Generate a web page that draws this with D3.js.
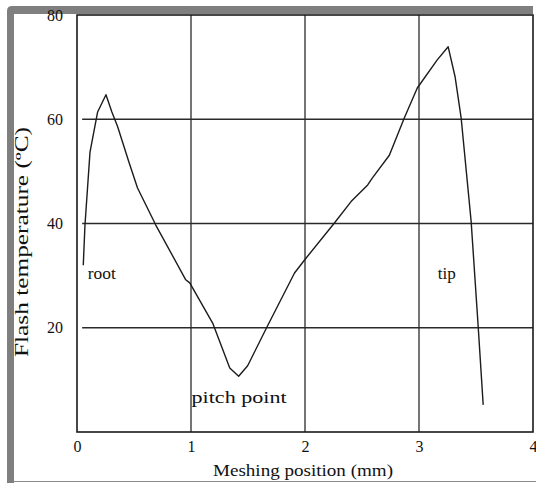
<!DOCTYPE html>
<html>
<head>
<meta charset="utf-8">
<script src="https://cdn.jsdelivr.net/npm/d3@7"></script>
<style>
  html, body { margin: 0; padding: 0; background: #fff; }
  svg { display: block; }
  text { font-family: "Liberation Serif", "Times New Roman", serif; fill: #111; }
</style>
</head>
<body>
<svg id="chart" width="536" height="483"></svg>
<script>
// Flash temperature along the line of action, root to tip
const meshPos = [0.055, 0.07, 0.114, 0.181, 0.254, 0.306, 0.356, 0.458, 0.531, 0.691, 0.954, 0.989,
                 1.19, 1.34, 1.418, 1.497, 1.663, 1.908, 1.996, 2.258, 2.404, 2.55, 2.59, 2.74,
                 2.87, 2.985, 3.16, 3.256, 3.317, 3.37, 3.457, 3.519, 3.563];
const flashTemp = [32.0, 39.7, 53.7, 61.4, 64.7, 61.4, 58.6, 51.6, 46.8, 39.7, 29.2, 28.6,
                   20.9, 12.3, 10.7, 12.7, 20.0, 30.5, 33.0, 40.1, 44.2, 47.4, 48.7, 53.1,
                   60.2, 66.0, 71.4, 73.9, 68.1, 60.2, 40.5, 20.3, 5.2];

const xTicks = [0, 1, 2, 3, 4];
const yTicks = [20, 40, 60, 80];
const xGrid = [1, 2, 3];
const yGrid = [20, 40, 60];

const notes = [
  { text: "root", x: 0.095, y: 29.4, len: 28 },
  { text: "tip", x: 3.165, y: 29.4, len: 18 },
  { text: "pitch point", x: 1.005, y: 5.6, len: 95 }
];

const svg = d3.select("#chart");
const x = d3.scaleLinear().domain([0, 4]).range([77, 533]);
const y = d3.scaleLinear().domain([0, 80]).range([432, 15]);

// outer frame: grey band on top and left, thin rule at bottom
svg.append("path")
  .attr("d", "M7,483 L7,11 Q7,6 12,6 L533,6 L533,14 L14,14 L14,483 Z")
  .attr("fill", "#7f7f7f");
svg.append("line")
  .attr("x1", 14).attr("x2", 536).attr("y1", 481.5).attr("y2", 481.5)
  .attr("stroke", "#8a8a8a").attr("stroke-width", 1.2);

// grid
const gridColor = "#2a2a2a";
svg.append("g").selectAll("line").data(yGrid).join("line")
  .attr("x1", x(0.045)).attr("x2", x(4))
  .attr("y1", d => y(d)).attr("y2", d => y(d))
  .attr("stroke", gridColor).attr("stroke-width", 1.3);
svg.append("g").selectAll("line").data(xGrid).join("line")
  .attr("x1", d => x(d)).attr("x2", d => x(d))
  .attr("y1", y(80)).attr("y2", y(0))
  .attr("stroke", gridColor).attr("stroke-width", 1.3);

// plot frame
svg.append("rect")
  .attr("x", x(0)).attr("y", y(80))
  .attr("width", x(4) - x(0)).attr("height", y(0) - y(80))
  .attr("fill", "none").attr("stroke", "#1a1a1a").attr("stroke-width", 1.6);

// axes (labels only, the frame carries the lines)
const xAxis = svg.append("g").attr("transform", `translate(0,${y(0)})`)
  .call(d3.axisBottom(x).tickValues(xTicks).tickFormat(d3.format("d")).tickSize(0).tickPadding(9));
xAxis.select(".domain").remove();
xAxis.selectAll("text").attr("font-size", 16).attr("font-family", "Liberation Serif");

const yAxis = svg.append("g").attr("transform", `translate(${x(0) - 14},0)`)
  .call(d3.axisLeft(y).tickValues(yTicks).tickFormat(d3.format("d")).tickSize(0).tickPadding(0));
yAxis.select(".domain").remove();
yAxis.selectAll("text").attr("font-size", 16).attr("font-family", "Liberation Serif");

// curve
const line = d3.line().x((d, i) => x(meshPos[i])).y(d => y(d)).curve(d3.curveLinear);
svg.append("path")
  .attr("d", line(flashTemp))
  .attr("fill", "none").attr("stroke", "#1c1c1c").attr("stroke-width", 1.4)
  .attr("stroke-linejoin", "round");

// annotations
svg.append("g").selectAll("text").data(notes).join("text")
  .attr("x", d => x(d.x)).attr("y", d => y(d.y))
  .attr("font-size", 17)
  .attr("textLength", d => d.len).attr("lengthAdjust", "spacingAndGlyphs")
  .text(d => d.text);

// axis titles
svg.append("text")
  .attr("x", 303).attr("y", 476)
  .attr("text-anchor", "middle").attr("font-size", 17)
  .attr("textLength", 180).attr("lengthAdjust", "spacingAndGlyphs")
  .text("Meshing position (mm)");
svg.append("text")
  .attr("transform", "translate(28,242) rotate(-90)")
  .attr("text-anchor", "middle").attr("font-size", 18)
  .attr("textLength", 230).attr("lengthAdjust", "spacingAndGlyphs")
  .text("Flash temperature (ºC)");
</script>
</body>
</html>
